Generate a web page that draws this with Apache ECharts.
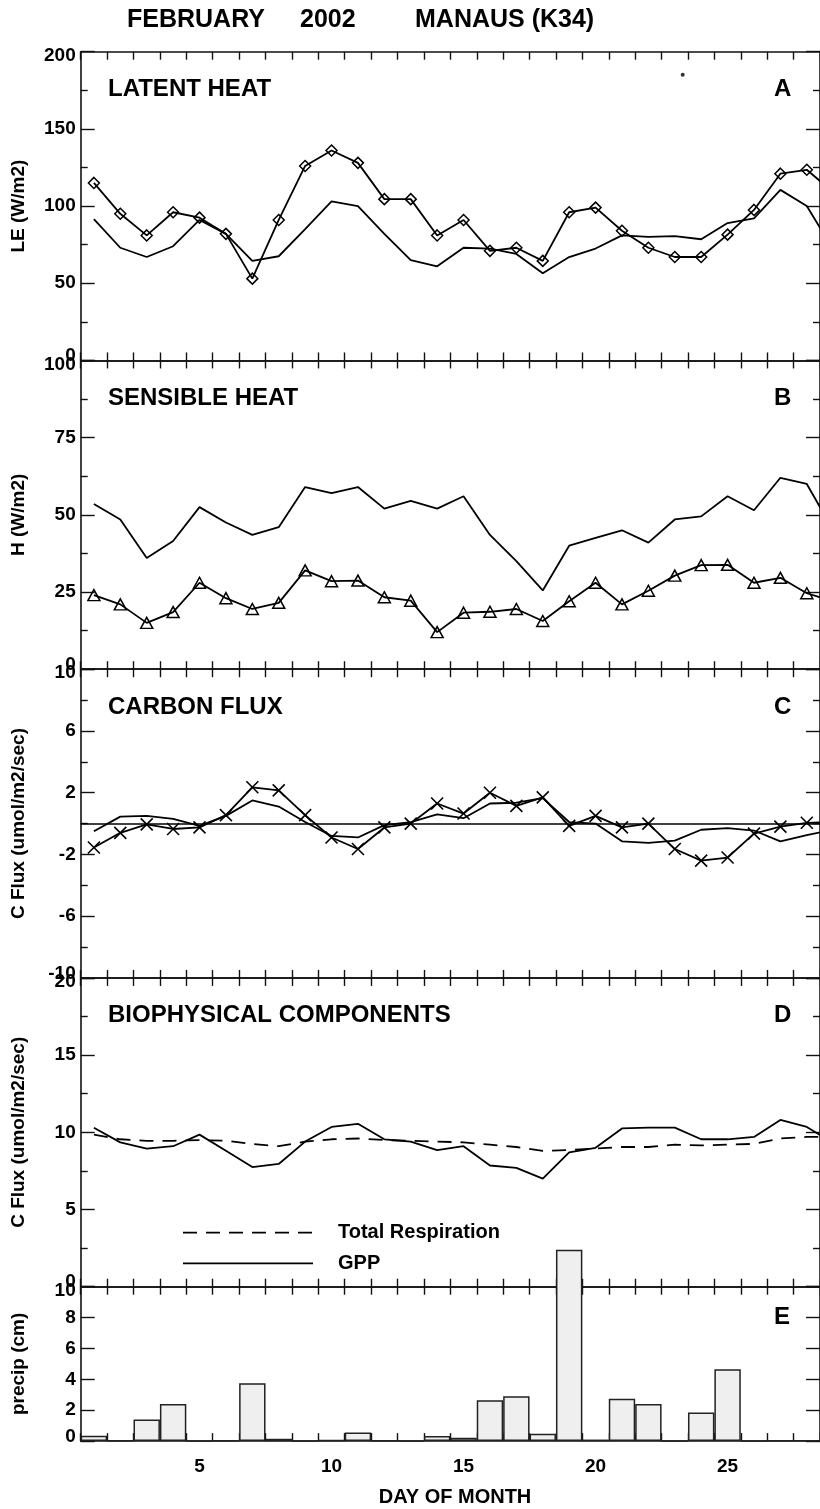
<!DOCTYPE html>
<html>
<head>
<meta charset="utf-8">
<title>February 2002 Manaus (K34)</title>
<script src="https://cdn.jsdelivr.net/npm/echarts@6/dist/echarts.min.js"></script>
<style>
  html, body { margin: 0; padding: 0; background: #fff; }
  #chart { width: 820px; height: 1509px; }
</style>
</head>
<body>
<div id="chart"></div>
<script>
// ---- daily values, February 2002 (day 29 = first day of March, runs off the right edge) ----
const days = [1,2,3,4,5,6,7,8,9,10,11,12,13,14,15,16,17,18,19,20,21,22,23,24,25,26,27,28,29];
const monthDays = ['1','2','3','4','5','6','7','8','9','10','11','12','13','14','15','16','17','18','19','20','21','22','23','24','25','26','27','28'];
const labelledDays = ['5','10','15','20','25'];

// A: latent heat (W/m2)
const leObserved = [115, 95, 81, 96, 92.5, 82, 53, 91, 126, 136, 128, 104.5, 104.5, 81, 91, 71, 73, 64.5, 96, 99, 84, 73, 67, 67, 81.5, 97.5, 121, 123.5, 109];
const leModel    = [91.5, 73, 67, 74, 91, 82, 64.5, 67.5, 85, 103, 100, 82, 65, 61, 73, 72.5, 69, 56.5, 67, 72.5, 81, 80, 80.5, 78.5, 89, 92, 110.5, 100, 72];
const leIsolated = [[23.3, 185]];

// B: sensible heat (W/m2)
const hModel    = [53.5, 48.5, 36, 41.5, 52.5, 47.5, 43.5, 46, 59, 57, 59, 52, 54.5, 52, 56, 43.5, 35, 25.5, 40, 42.5, 45, 41, 48.5, 49.5, 56, 51.5, 62, 60, 45];
const hObserved = [24, 21, 15, 18.5, 28, 23, 19.5, 21.5, 32, 28.5, 28.7, 23.3, 22.2, 12, 18.3, 18.6, 19.5, 15.6, 22, 28, 21, 25.4, 30.3, 33.7, 33.8, 28, 29.6, 24.6, 22];

// C: net carbon flux (umol/m2/sec)
const cObserved = [-1.55, -0.6, -0.05, -0.35, -0.25, 0.55, 2.35, 2.15, 0.55, -0.9, -1.65, -0.25, 0, 1.3, 0.65, 2.0, 1.15, 1.7, -0.15, 0.5, -0.25, 0, -1.65, -2.4, -2.2, -0.65, -0.2, 0.05, 0.1];
const cModel    = [-0.5, 0.45, 0.5, 0.3, -0.15, 0.5, 1.5, 1.1, 0.1, -0.8, -0.9, -0.1, 0.1, 0.6, 0.35, 1.3, 1.35, 1.65, 0.1, 0, -1.15, -1.25, -1.1, -0.4, -0.3, -0.45, -1.15, -0.75, -0.4];

// D: biophysical components (umol/m2/sec)
const respiration = [9.85, 9.55, 9.45, 9.45, 9.5, 9.45, 9.25, 9.1, 9.4, 9.55, 9.6, 9.5, 9.45, 9.4, 9.35, 9.2, 9.05, 8.8, 8.85, 8.95, 9.05, 9.05, 9.2, 9.15, 9.2, 9.25, 9.6, 9.7, 9.7];
const gpp         = [10.3, 9.35, 8.95, 9.1, 9.85, 8.8, 7.75, 7.95, 9.4, 10.35, 10.55, 9.55, 9.4, 8.85, 9.1, 7.85, 7.7, 7.0, 8.7, 9.0, 10.25, 10.3, 10.3, 9.55, 9.55, 9.7, 10.8, 10.35, 9.3];

// E: daily precipitation (cm)
const precip = [0.35, 0.05, 1.4, 2.4, 0, 0.05, 3.75, 0.15, 0, 0.07, 0.55, 0.03, 0, 0.33, 0.22, 2.65, 2.9, 0.48, 12.4, 0.1, 2.75, 2.4, 0.02, 1.85, 4.65, 0.02, 0.03, 0.05];

// ---- layout ----
const FONT = '"Liberation Sans", Arial, Helvetica, sans-serif';
const GRID_LEFT = 80.7;
const GRID_WIDTH = 746.7;
const PANEL_TOPS = [51.7, 360.45, 669.2, 977.95, 1286.7];
const PANEL_HEIGHTS = [308.75, 308.75, 308.75, 308.75, 154.4];

const panels = [
  { title: 'LATENT HEAT', letter: 'A', yName: 'LE (W/m2)', min: 0, max: 200, interval: 50, minor: true },
  { title: 'SENSIBLE HEAT', letter: 'B', yName: 'H (W/m2)', min: 0, max: 100, interval: 25, minor: true },
  { title: 'CARBON FLUX', letter: 'C', yName: 'C Flux (umol/m2/sec)', min: -10, max: 10, interval: 4, minor: true },
  { title: 'BIOPHYSICAL COMPONENTS', letter: 'D', yName: 'C Flux (umol/m2/sec)', min: 0, max: 20, interval: 5, minor: true },
  { title: '', letter: 'E', yName: 'precip (cm)', min: 0, max: 10, interval: 2, minor: false }
];

const pairs = vals => vals.map((v, i) => [days[i], v]);

const AXIS_LINE = { show: true, onZero: false, lineStyle: { color: '#111', width: 1.6 } };
const LABEL_TEXT = { fontSize: 19, fontWeight: 'bold', fontFamily: FONT, color: '#000' };

const grid = PANEL_TOPS.map((t, i) => ({ left: GRID_LEFT, width: GRID_WIDTH, top: t, height: PANEL_HEIGHTS[i] }));

// three x axes per panel: tick box bottom, tick box top, and the numeric day axis for the lines
const xAxis = [];
panels.forEach((p, i) => {
  const last = i === panels.length - 1;
  ['bottom', 'top'].forEach(pos => {
    xAxis.push({
      type: 'category', gridIndex: i, position: pos, data: monthDays, boundaryGap: true,
      axisLine: AXIS_LINE,
      axisTick: { show: true, inside: true, interval: 0, length: 8, lineStyle: { color: '#111', width: 1.4 } },
      axisLabel: (last && pos === 'bottom')
        ? Object.assign({ show: true, margin: 16, interval: (idx, val) => labelledDays.includes(val) }, LABEL_TEXT)
        : { show: false },
      splitLine: { show: false }
    });
  });
  xAxis.push({ type: 'value', gridIndex: i, min: 0.5, max: 28.5, show: false });
});

const yAxis = [];
panels.forEach((p, i) => {
  ['left', 'right'].forEach(pos => {
    yAxis.push({
      type: 'value', gridIndex: i, position: pos, min: p.min, max: p.max, interval: p.interval,
      name: pos === 'left' ? p.yName : '',
      nameLocation: 'middle', nameRotate: 90, nameGap: 52,
      nameTextStyle: { fontSize: 19, fontWeight: 'bold', fontFamily: FONT, color: '#000' },
      axisLine: AXIS_LINE,
      axisTick: { show: true, inside: true, length: 14, lineStyle: { color: '#111', width: 1.4 } },
      minorTick: { show: p.minor, splitNumber: 2, length: 7, lineStyle: { color: '#111', width: 1.4 } },
      axisLabel: pos === 'left' ? Object.assign({
        show: true, margin: 5,
        formatter: v => v === p.max ? '{hi|' + v + '}' : (v === p.min ? '{lo|' + v + '}' : String(v)),
        rich: {
          hi: Object.assign({ padding: [8, 0, 0, 0] }, LABEL_TEXT),
          lo: Object.assign({ padding: [0, 0, 9, 0] }, LABEL_TEXT)
        }
      }, LABEL_TEXT) : { show: false },
      splitLine: { show: false },
      minorSplitLine: { show: false }
    });
  });
});

const LINE = { color: '#000', width: 1.8 };
const HOLLOW = { color: 'rgba(0,0,0,0)', borderColor: '#000', borderWidth: 1.5 };
const CROSS = 'path://M0,0L10,10M10,0L0,10';
const RESP_DASH = [14, 9];

function line(name, panel, vals, extra) {
  return Object.assign({
    type: 'line', name, xAxisIndex: panel * 3 + 2, yAxisIndex: panel * 2,
    data: pairs(vals), symbol: 'none', lineStyle: LINE, itemStyle: { color: '#000' },
    silent: true, animation: false, z: 3
  }, extra || {});
}

const series = [
  line('LE model', 0, leModel),
  line('LE observed', 0, leObserved, { symbol: 'diamond', symbolSize: 11, showAllSymbol: true, itemStyle: HOLLOW }),
  { type: 'scatter', name: 'LE single', xAxisIndex: 2, yAxisIndex: 0, data: leIsolated, symbolSize: 4,
    itemStyle: { color: '#000' }, silent: true, animation: false },

  line('H model', 1, hModel),
  line('H observed', 1, hObserved, { symbol: 'triangle', symbolSize: [12, 11], showAllSymbol: true, itemStyle: HOLLOW }),

  line('C model', 2, cModel, {
    markLine: { silent: true, symbol: ['none', 'none'], label: { show: false },
      lineStyle: { color: '#000', width: 1.5, type: 'solid' }, data: [{ yAxis: 0 }] }
  }),
  line('C observed', 2, cObserved, { symbol: CROSS, symbolSize: 12, showAllSymbol: true,
    itemStyle: { color: 'rgba(0,0,0,0)', borderColor: '#000', borderWidth: 1.6 } }),

  line('Total Respiration', 3, respiration, { lineStyle: { color: '#000', width: 1.8, type: RESP_DASH } }),
  line('GPP', 3, gpp),

  { type: 'bar', name: 'precip', xAxisIndex: 12, yAxisIndex: 8, data: precip, barCategoryGap: '0%',
    clip: false, itemStyle: { color: '#efefef', borderColor: '#222', borderWidth: 1.5 },
    silent: true, animation: false, z: 4 }
];

// page heading, panel captions and the key inside panel D
const graphic = [
  { type: 'text', x: 127, y: 20, style: { text: 'FEBRUARY', font: 'bold 25px ' + FONT, fill: '#000', verticalAlign: 'middle' } },
  { type: 'text', x: 300, y: 20, style: { text: '2002', font: 'bold 25px ' + FONT, fill: '#000', verticalAlign: 'middle' } },
  { type: 'text', x: 415, y: 20, style: { text: 'MANAUS (K34)', font: 'bold 25px ' + FONT, fill: '#000', verticalAlign: 'middle' } },
  { type: 'text', x: 455, y: 1497, style: { text: 'DAY OF MONTH', font: 'bold 20px ' + FONT, fill: '#000', align: 'center', verticalAlign: 'middle' } },

  { type: 'line', shape: { x1: 183, y1: 1232.7, x2: 313, y2: 1232.7 }, style: { stroke: '#000', lineWidth: 1.8, lineDash: RESP_DASH } },
  { type: 'text', x: 338, y: 1232.7, style: { text: 'Total Respiration', font: 'bold 20px ' + FONT, fill: '#000', verticalAlign: 'middle' } },
  { type: 'line', shape: { x1: 183, y1: 1263.3, x2: 313, y2: 1263.3 }, style: { stroke: '#000', lineWidth: 1.8 } },
  { type: 'text', x: 338, y: 1263.3, style: { text: 'GPP', font: 'bold 20px ' + FONT, fill: '#000', verticalAlign: 'middle' } }
];
panels.forEach((p, i) => {
  const cy = PANEL_TOPS[i] + (i === 4 ? 30.3 : 37.8);
  if (p.title) graphic.push({ type: 'text', x: 108, y: cy, style: { text: p.title, font: 'bold 24px ' + FONT, fill: '#000', verticalAlign: 'middle' } });
  graphic.push({ type: 'text', x: 774, y: cy, style: { text: p.letter, font: 'bold 24px ' + FONT, fill: '#000', verticalAlign: 'middle' } });
});

const chart = echarts.init(document.getElementById('chart'), null, { renderer: 'canvas' });
chart.setOption({
  backgroundColor: '#fff',
  animation: false,
  grid, xAxis, yAxis, series, graphic
});
</script>
</body>
</html>
